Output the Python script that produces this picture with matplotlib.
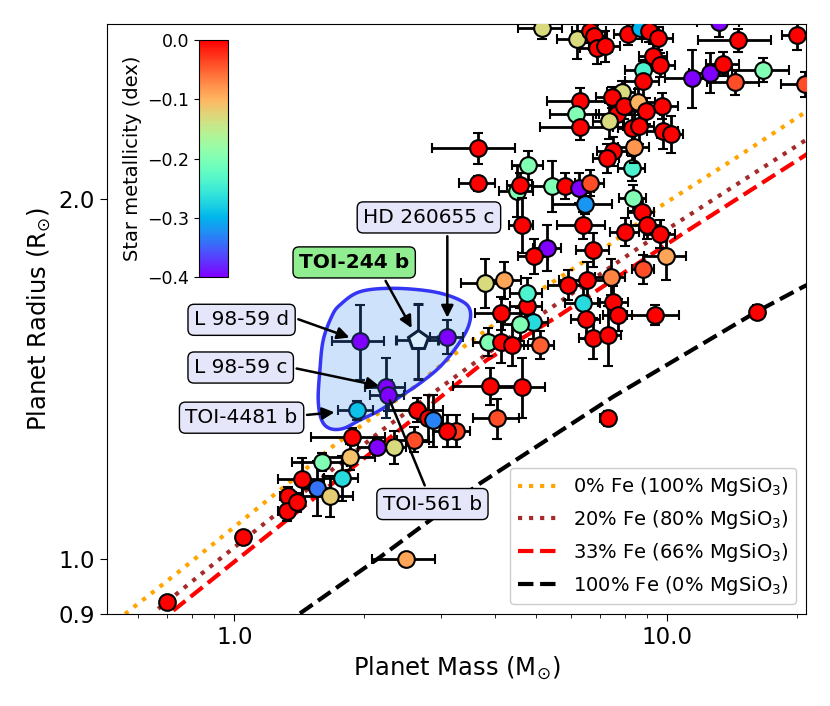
import numpy as np
import matplotlib
matplotlib.use('Agg')
import matplotlib.pyplot as plt
from matplotlib.colors import Normalize
from matplotlib.ticker import FixedLocator, NullLocator, FixedFormatter

# known small planets: mass (Earth), radius (Earth), star [Fe/H]
mass = [0.698, 1.046, 2.50, 1.333, 1.322, 1.394, 1.432, 1.551, 1.592, 1.664,
        1.772, 1.852, 1.868, 2.138, 2.34, 2.604, 2.641, 2.81, 2.885, 3.256,
        3.10,
        3.87, 4.15, 4.745, 4.745, 4.915, 4.58, 4.15, 4.38, 5.09, 3.90,
        4.62, 4.06, 7.30, 16.15,
        3.655, 3.667, 4.50, 4.58, 4.79, 5.42, 5.82, 6.28, 6.65, 6.47,
        8.30, 8.34, 8.75, 8.99, 8.01, 9.65, 9.96, 8.83, 4.62, 6.39,
        5.30, 4.93, 6.77, 3.80, 4.20, 5.92, 6.55, 7.42, 6.41, 7.52,
        7.73, 6.51, 9.39, 6.77, 7.33,
        5.14, 6.19, 6.65, 6.79, 6.89, 7.20, 8.15, 8.68, 9.12, 9.56,
        9.31, 9.65, 8.83, 8.80, 7.87, 7.46, 6.30, 6.17, 6.30, 7.66,
        7.98, 8.60, 8.96, 9.74, 7.36, 8.30, 8.64, 9.82, 10.21, 7.50,
        7.26, 8.40, 11.42, 12.59, 13.52, 14.39, 14.64, 16.67, 19.98, 20.88,
        13.23]
mass_err = [0.02, 0.03, 0.42, 0.06, 0.06, 0.06, 0.17, 0.12, 0.23, 0.22,
            0.16, 0.26, 0.36, 0.20, 0.15, 0.22, 0.40, 0.15, 0.15, 0.25,
            0.22,
            0.30, 0.55, 0.40, 0.40, 0.40, 0.40, 0.40, 0.40, 0.40, 0.70,
            0.60, 0.50, 0.30, 0.50,
            0.35, 0.80, 0.40, 0.30, 0.40, 0.50, 0.50, 0.50, 0.50, 1.00,
            0.60, 0.60, 0.60, 0.70, 0.60, 0.80, 1.10, 0.50, 0.30, 0.80,
            0.40, 0.40, 0.60, 0.45, 0.40, 0.60, 0.90, 0.60, 0.60, 0.60,
            0.60, 0.50, 1.30, 0.50, 0.50,
            0.60, 0.60, 0.60, 0.50, 0.60, 0.60, 0.60, 0.60, 0.70, 0.80,
            0.70, 0.80, 0.80, 0.80, 0.60, 0.60, 1.00, 0.80, 1.20, 0.80,
            0.60, 0.80, 0.70, 0.90, 0.60, 0.60, 0.70, 0.80, 0.70, 0.60,
            0.50, 0.70, 1.50, 1.30, 1.20, 2.00, 2.80, 2.50, 1.50, 2.50,
            1.50]
radius = [0.921, 1.044, 1.001, 1.129, 1.097, 1.116, 1.166, 1.147, 1.206, 1.129,
          1.169, 1.218, 1.266, 1.241, 1.241, 1.259, 1.333, 1.312, 1.307, 1.28,
          1.28,
          1.519, 1.605, 1.628, 1.668, 1.579, 1.571, 1.519, 1.510, 1.51, 1.395,
          1.392, 1.311, 1.311, 1.61,
          2.061, 2.205, 2.03, 2.054, 2.135, 2.051, 2.051, 2.044, 2.063, 1.981,
          2.122, 2.003, 1.951, 1.902, 1.878, 1.870, 1.792, 1.747, 1.902, 1.902,
          1.821, 1.792, 1.813, 1.70, 1.711, 1.695, 1.711, 1.722, 1.636, 1.641,
          1.600, 1.587, 1.60, 1.530, 1.539,
          2.778, 2.72, 2.76, 2.734, 2.673, 2.682, 2.748, 2.778, 2.765, 2.725,
          2.634, 2.588, 2.564, 2.51, 2.459, 2.432, 2.416, 2.356, 2.298, 2.356,
          2.392, 2.412, 2.37, 2.392, 2.324, 2.291, 2.301, 2.28, 2.265, 2.191,
          2.163, 2.212, 2.523, 2.55, 2.593, 2.504, 2.713, 2.564, 2.742, 2.494,
          2.813]
radius_err = [0.008, 0.008, 0.012, 0.02, 0.02, 0.02, 0.05, 0.06, 0.02, 0.045,
              0.05, 0.03, 0.02, 0.02, 0.04, 0.03, 0.03, 0.06, 0.065, 0.04,
              0.04,
              0.04, 0.05, 0.06, 0.05, 0.05, 0.05, 0.06, 0.06, 0.04, 0.05,
              0.08, 0.05, 0.02, 0.02,
              0.03, 0.065, 0.10, 0.05, 0.06, 0.10, 0.05, 0.06, 0.05, 0.04,
              0.05, 0.05, 0.05, 0.05, 0.05, 0.05, 0.08, 0.05, 0.10, 0.05,
              0.08, 0.06, 0.06, 0.08, 0.06, 0.05, 0.06, 0.06, 0.06, 0.05,
              0.05, 0.06, 0.03, 0.06, 0.09,
              0.06, 0.10, 0.06, 0.06, 0.08, 0.08, 0.06, 0.06, 0.06, 0.06,
              0.06, 0.06, 0.05, 0.10, 0.05, 0.05, 0.06, 0.06, 0.06, 0.06,
              0.06, 0.06, 0.06, 0.06, 0.08, 0.06, 0.08, 0.08, 0.08, 0.06,
              0.06, 0.07, 0.14, 0.10, 0.06, 0.06, 0.06, 0.06, 0.08, 0.06,
              0.08]
feh = [0.10, 0.05, -0.09, 0.02, 0.05, 0.03, 0.01, -0.34, -0.20, -0.12,
       -0.27, -0.11, 0.02, -0.43, -0.13, -0.04, 0.05, 0.02, -0.33, -0.03,
       0.04,
       -0.20, 0.03, 0.02, -0.24, -0.27, -0.20, 0.05, 0.01, -0.05, 0.04,
       0.02, -0.04, 0.06, 0.08,
       0.05, 0.04, -0.20, 0.02, -0.20, -0.20, 0.02, -0.42, -0.04, -0.32,
       -0.24, -0.20, 0.03, 0.02, 0.05, 0.01, -0.09, -0.04, 0.02, 0.03,
       -0.42, 0.02, 0.04, -0.13, -0.09, 0.03, 0.02, -0.07, -0.27, 0.03,
       0.05, 0.02, 0.04, 0.03, 0.01,
       -0.13, -0.13, 0.03, 0.02, 0.04, 0.03, 0.02, -0.30, 0.02, 0.03,
       0.04, 0.03, -0.24, 0.02, -0.13, 0.04, 0.02, -0.20, 0.03, 0.02,
       0.04, -0.10, 0.02, 0.03, -0.13, 0.02, 0.03, 0.02, 0.04, 0.02,
       0.03, -0.08, -0.42, -0.42, 0.03, -0.04, 0.02, -0.20, 0.02, -0.04,
       -0.42]

# highlighted planets
hl_names = ['L 98-59 d', 'HD 260655 c', 'L 98-59 c', 'TOI-561 b', 'TOI-4481 b']
hl_mass = [1.953, 3.11, 2.243, 2.264, 1.919]
hl_mass_err = [0.27, 0.27, 0.24, 0.20, 0.18]
hl_radius = [1.521, 1.533, 1.392, 1.371, 1.332]
hl_radius_err = [0.11, 0.05, 0.08, 0.04, 0.025]
hl_feh = [-0.46, -0.43, -0.46, -0.41, -0.29]

toi244_mass, toi244_mass_err = 2.666, 0.30
toi244_radius, toi244_radius_err = 1.524, 0.11

# composition curves (Zeng et al.)
fe0_mass = [0.559, 0.736, 1.013, 1.345, 1.692, 2.59, 3.385, 5.18, 7.26, 9.65, 14.23, 21.0]
fe0_rad = [0.900, 0.973, 1.068, 1.160, 1.243, 1.390, 1.504, 1.684, 1.824, 1.971, 2.156, 2.365]
fe20_mass = [0.667, 0.918, 1.147, 2.173, 3.24, 5.18, 8.68, 14.26, 20.7, 21.5]
fe20_rad = [0.909, 0.998, 1.064, 1.278, 1.420, 1.605, 1.824, 2.048, 2.233, 2.25]
fe33_mass = [0.723, 1.0, 1.322, 2.2, 3.836, 5.67, 10.93, 20.7, 21.5]
fe33_rad = [0.906, 0.995, 1.078, 1.249, 1.467, 1.600, 1.872, 2.170, 2.19]
fe100_mass = [1.419, 2.173, 3.70, 7.52, 16.15, 20.7, 21.5]
fe100_rad = [0.901, 1.004, 1.157, 1.367, 1.610, 1.689, 1.70]

# outline of the highlighted region (mass, radius)
blob_mass = [1.756, 1.953, 2.332, 2.885, 3.327, 3.509, 3.477, 3.268, 2.990, 2.689,
             2.417, 2.173, 1.953, 1.787, 1.664, 1.593, 1.564, 1.578, 1.606, 1.680]
blob_rad = [1.631, 1.673, 1.684, 1.673, 1.646, 1.615, 1.564, 1.505, 1.448, 1.403,
            1.367, 1.332, 1.307, 1.286, 1.286, 1.307, 1.358, 1.439, 1.524, 1.595]


def smooth_closed(xs, ys, n=24):
    # periodic Catmull-Rom spline through the outline points
    pts = np.column_stack([xs, ys])
    N = len(pts)
    t = np.linspace(0, 1, n, endpoint=False)[:, None]
    out = []
    for i in range(N):
        p0, p1, p2, p3 = pts[i - 1], pts[i], pts[(i + 1) % N], pts[(i + 2) % N]
        out.append(0.5 * (2 * p1 + (-p0 + p2) * t + (2 * p0 - 5 * p1 + 4 * p2 - p3) * t ** 2
                          + (-p0 + 3 * p1 - 3 * p2 + p3) * t ** 3))
    return np.vstack(out)


cmap = plt.get_cmap('rainbow')
norm = Normalize(vmin=-0.4, vmax=0.0)

fig = plt.figure(figsize=(8.3, 7.06), dpi=100)
ax = fig.add_axes([0.1285, 0.1303, 0.8426, 0.8357])
ax.set_xscale('log')
ax.set_yscale('log')

ax.plot(fe0_mass, fe0_rad, ls=':', color='orange', lw=3, zorder=1.5, label='0% Fe (100% MgSiO$_3$)')
ax.plot(fe20_mass, fe20_rad, ls=':', color='brown', lw=3, zorder=1.5, label='20% Fe (80% MgSiO$_3$)')
ax.plot(fe33_mass, fe33_rad, ls='--', color='red', lw=3, zorder=1.5, label='33% Fe (66% MgSiO$_3$)')
ax.plot(fe100_mass, fe100_rad, ls='--', color='black', lw=3, zorder=1.5, label='100% Fe (0% MgSiO$_3$)')

z = 2
for m, dm, r, dr, f in zip(mass, mass_err, radius, radius_err, feh):
    ax.errorbar(m, r, xerr=dm, yerr=dr, fmt='o', ms=12, mfc=cmap(norm(f)), mec='k', mew=1.5,
                ecolor='k', elinewidth=2, capsize=3.5, capthick=2, zorder=z)
    z += 0.01

# highlighted region
bl = smooth_closed(np.log10(blob_mass), np.log10(blob_rad))
ax.fill(10 ** bl[:, 0], 10 ** bl[:, 1], fc='#3d8ef0', alpha=0.25, ec='none', zorder=4)
ax.fill(10 ** bl[:, 0], 10 ** bl[:, 1], fc='none', ec='#3535f5', lw=2.5, zorder=4.1)

navy = '#0e2240'
for m, dm, r, dr, f in zip(hl_mass, hl_mass_err, hl_radius, hl_radius_err, hl_feh):
    ax.errorbar(m, r, xerr=dm, yerr=dr, fmt='o', ms=12, mfc=cmap(norm(f)), mec=navy, mew=1.5,
                ecolor=navy, elinewidth=2, capsize=3.5, capthick=2, zorder=5)
ax.errorbar(toi244_mass, toi244_radius, xerr=toi244_mass_err, yerr=toi244_radius_err,
            fmt='p', ms=15, mfc='#dcefff', mec=navy, mew=2.2,
            ecolor=navy, elinewidth=2, capsize=3.5, capthick=2, zorder=5.5)

ax.set_xlim(0.507, 21.0)
ax.set_ylim(0.9, 2.8)

ax.xaxis.set_major_locator(FixedLocator([1.0, 10.0]))
ax.xaxis.set_major_formatter(FixedFormatter(['1.0', '10.0']))
ax.yaxis.set_major_locator(FixedLocator([0.9, 1.0, 2.0]))
ax.yaxis.set_major_formatter(FixedFormatter(['0.9', '1.0', '2.0']))
ax.yaxis.set_minor_locator(NullLocator())
ax.tick_params(axis='both', which='major', labelsize=16.5, length=5)
ax.tick_params(axis='x', which='minor', length=3)

ax.set_xlabel('Planet Mass (M$_{\\odot}$)', fontsize=17.5)
ax.set_ylabel('Planet Radius (R$_{\\odot}$)', fontsize=17.5)

leg = ax.legend(loc='lower right', fontsize=14, framealpha=1)
leg.set_zorder(20)

# labels
box = dict(boxstyle='round,pad=0.3', fc='lavender', ec='k', lw=1)
arrow = dict(arrowstyle='-|>', color='k', lw=1.8, mutation_scale=18)
ax.annotate('HD 260655 c', xy=(hl_mass[1], hl_radius[1]), xytext=(2.82, 1.930),
            ha='center', va='center', fontsize=14.5, bbox=box, zorder=10,
            arrowprops=dict(arrow, relpos=(0.64, 0), shrinkB=14))
ax.annotate('TOI-244 b', xy=(toi244_mass, toi244_radius), xytext=(1.894, 1.770),
            ha='center', va='center', fontsize=14.5, fontweight='bold', zorder=10,
            bbox=dict(box, fc='lightgreen'),
            arrowprops=dict(arrow, relpos=(0.74, 0), shrinkB=10))
ax.annotate('L 98-59 d', xy=(hl_mass[0], hl_radius[0]), xytext=(1.040, 1.585),
            ha='center', va='center', fontsize=14.5, bbox=box, zorder=10,
            arrowprops=dict(arrow, relpos=(1, 0.7), shrinkB=8))
ax.annotate('L 98-59 c', xy=(hl_mass[2], hl_radius[2]), xytext=(1.035, 1.446),
            ha='center', va='center', fontsize=14.5, bbox=box, zorder=10,
            arrowprops=dict(arrow, relpos=(1, 0.55), shrinkB=5))
ax.annotate('TOI-4481 b', xy=(hl_mass[4], hl_radius[4]), xytext=(1.040, 1.313),
            ha='center', va='center', fontsize=14.5, bbox=box, zorder=10,
            arrowprops=dict(arrow, relpos=(1, 0.6), shrinkB=16))
ax.annotate('TOI-561 b', xy=(hl_mass[3], hl_radius[3]), xytext=(2.873, 1.112),
            ha='center', va='center', fontsize=14.5, bbox=box, zorder=10,
            arrowprops=dict(arrowstyle='-', color='k', lw=1.8, relpos=(0.46, 1), shrinkB=4))

# colorbar inset
cax = fig.add_axes([0.2398, 0.6076, 0.035, 0.3357])
sm = plt.cm.ScalarMappable(norm=norm, cmap=cmap)
cb = fig.colorbar(sm, cax=cax, ticks=[-0.4, -0.3, -0.2, -0.1, 0.0])
cax.yaxis.set_ticks_position('left')
cax.yaxis.set_label_position('left')
cax.tick_params(labelsize=12.5)
cb.set_label('Star metallicity (dex)', fontsize=14)

fig.savefig('out.png', dpi=100)
